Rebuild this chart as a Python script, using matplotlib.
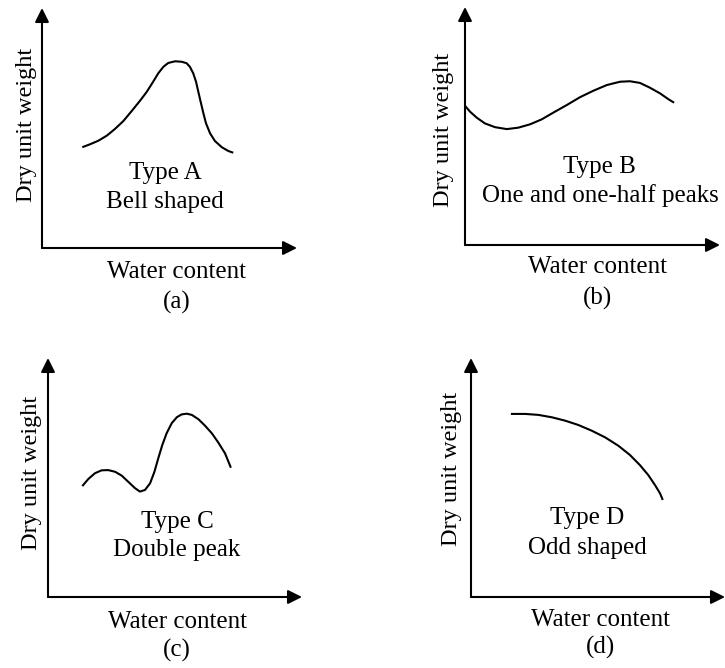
import matplotlib
matplotlib.use("Agg")
import matplotlib.pyplot as plt

plt.rcParams["font.family"] = ["Liberation Serif", "DejaVu Serif"]

# compaction curve shapes, drawn on a 0-10 scale for water content / dry unit weight
type_a_x = [1.58, 1.88, 2.21, 2.54, 2.86, 3.19, 3.52, 3.84, 4.11, 4.36, 4.56, 4.76, 4.95, 5.22,
            5.48, 5.67, 5.80, 5.93, 6.04, 6.13, 6.22, 6.33, 6.43, 6.59, 6.78, 7.05, 7.31, 7.50]
type_a_y = [4.20, 4.32, 4.47, 4.68, 4.96, 5.29, 5.71, 6.13, 6.51, 6.93, 7.28, 7.55, 7.71, 7.78,
            7.76, 7.70, 7.55, 7.28, 6.93, 6.51, 6.10, 5.61, 5.20, 4.78, 4.46, 4.20, 4.04, 3.97]

type_b_x = [0.00, 0.20, 0.46, 0.78, 1.18, 1.64, 2.09, 2.55, 3.01, 3.46, 3.99, 4.51, 5.03, 5.56,
            6.08, 6.47, 6.86, 7.25, 7.65, 7.97, 8.20]
type_b_y = [5.85, 5.60, 5.35, 5.11, 4.95, 4.87, 4.93, 5.07, 5.28, 5.56, 5.88, 6.21, 6.48, 6.72,
            6.86, 6.88, 6.81, 6.61, 6.37, 6.13, 5.98]

type_c_x = [1.35, 1.59, 1.85, 2.11, 2.37, 2.64, 2.90, 3.16, 3.43, 3.62, 3.82, 4.02, 4.19, 4.34,
            4.50, 4.67, 4.87, 5.07, 5.26, 5.46, 5.66, 5.92, 6.18, 6.45, 6.70, 6.97, 7.20]
type_c_y = [4.64, 4.94, 5.18, 5.30, 5.31, 5.24, 5.08, 4.82, 4.55, 4.41, 4.48, 4.76, 5.24, 5.80,
            6.36, 6.85, 7.27, 7.52, 7.64, 7.67, 7.62, 7.44, 7.17, 6.85, 6.47, 6.01, 5.41]

type_d_x = [1.57, 2.13, 2.65, 3.18, 3.70, 4.22, 4.75, 5.28, 5.80, 6.26, 6.65, 6.98, 7.24, 7.44, 7.55]
type_d_y = [7.66, 7.66, 7.62, 7.52, 7.38, 7.20, 6.96, 6.68, 6.33, 5.94, 5.52, 5.10, 4.69, 4.34, 4.06]

curve_names = ["Type A", "Type B", "Type C", "Type D"]
curve_desc = ["Bell shaped", "One and one-half peaks", "Double peak", "Odd shaped"]
panel_tags = ["(a)", "(b)", "(c)", "(d)"]
xlabel = "Water content"
ylabel = "Dry unit weight"

W, H = 725, 668
fig = plt.figure(figsize=(W / 100, H / 100), dpi=100)

# left, right (arrow tip), top (arrow tip), bottom in pixels
boxes = [(42, 297, 8, 248), (465, 720, 7, 245), (48, 302, 358, 597), (471, 725, 358, 597)]
curves = [(type_a_x, type_a_y), (type_b_x, type_b_y), (type_c_x, type_c_y), (type_d_x, type_d_y)]
name_pos = [(4.82, 3.13, 1.92), (5.29, 3.28, 2.10), (5.08, 3.14, 1.97), (4.57, 3.31, 2.05)]
xlab_pos = [(5.29, -1.00, -2.25), (5.18, -0.92, -2.23), (5.08, -1.05, -2.22), (5.08, -0.96, -2.13)]
ylab_pos = [(-0.59, 5.13), (-0.86, 4.83), (-0.63, 5.19), (-0.75, 5.36)]

for i in range(4):
    l, r, t, b = boxes[i]
    ax = fig.add_axes([l / W, 1 - b / H, (r - l) / W, (b - t) / H])
    ax.set_xlim(0, 10)
    ax.set_ylim(0, 10)
    ax.axis("off")

    arrow = dict(arrowstyle="-|>", lw=1.5, color="k", mutation_scale=21, shrinkA=0, shrinkB=0)
    ax.annotate("", xy=(10, 0), xytext=(0, 0), arrowprops=arrow, annotation_clip=False)
    ax.annotate("", xy=(0, 10), xytext=(0, 0), arrowprops=arrow, annotation_clip=False)

    cx, cy = curves[i]
    ax.plot(cx, cy, color="k", lw=1.5, clip_on=False,
            solid_capstyle="butt", solid_joinstyle="round")

    nx, ny1, ny2 = name_pos[i]
    ax.text(nx, ny1, curve_names[i], ha="center", va="center", fontsize=18)
    ax.text(nx, ny2, curve_desc[i], ha="center", va="center", fontsize=18)

    lx, ly1, ly2 = xlab_pos[i]
    ax.text(lx, ly1, xlabel, ha="center", va="center", fontsize=18, clip_on=False)
    ax.text(lx, ly2, panel_tags[i], ha="center", va="center", fontsize=18, clip_on=False)

    yx, yy = ylab_pos[i]
    ax.text(yx, yy, ylabel, ha="center", va="center", rotation=90, fontsize=17.5, clip_on=False)

fig.savefig("out.png", dpi=100)
